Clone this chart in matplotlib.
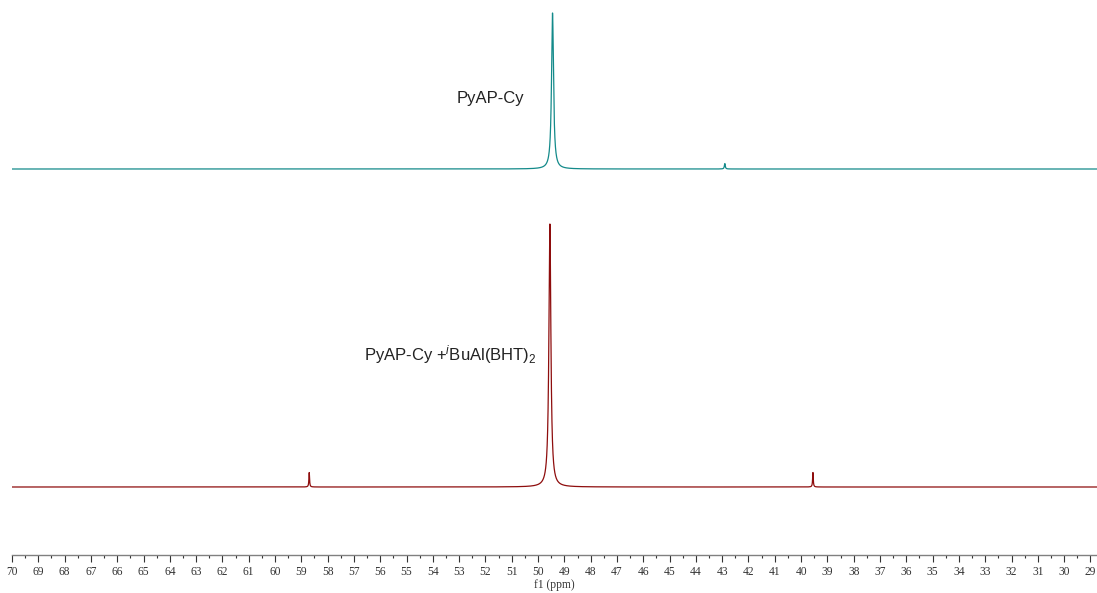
import numpy as np
import matplotlib
matplotlib.use("Agg")
import matplotlib.pyplot as plt
from matplotlib.ticker import MultipleLocator

plt.rcParams["mathtext.fontset"] = "custom"
plt.rcParams["mathtext.rm"] = "Liberation Sans"
plt.rcParams["mathtext.it"] = "Liberation Sans:italic"

# peak lists (ppm, relative height, half width in ppm)
top_shifts = [49.45, 42.9]
top_heights = [1.0, 0.035]
top_widths = [0.045, 0.02]
top_label = "PyAP-Cy"

bottom_shifts = [49.55, 58.7, 39.55]
bottom_heights = [1.0, 0.055, 0.055]
bottom_widths = [0.045, 0.015, 0.015]
bottom_label = r"PyAP-Cy +$^{\mathit{i}}$BuAl(BHT)$_2$"

ppm = np.linspace(70, 28.7, 30000)


def spectrum(shifts, heights, widths):
    y = np.zeros_like(ppm)
    for s, h, w in zip(shifts, heights, widths):
        y += h * w**2 / ((ppm - s) ** 2 + w**2)
    return y


fig = plt.figure(figsize=(10.97, 5.93), dpi=100)
ax = fig.add_axes([12 / 1097, 38 / 593, 1 - 12 / 1097, 555 / 593])

ax.plot(ppm, 386 + 156 * spectrum(top_shifts, top_heights, top_widths),
        color="#138a8a", lw=0.9)
ax.plot(ppm, 68 + 263 * spectrum(bottom_shifts, bottom_heights, bottom_widths),
        color="#8e0d0d", lw=0.9)

ax.text(51.8, 457, top_label, ha="center", va="center",
        fontsize=12, family="Liberation Sans", color="#222222")
ax.text(56.6, 195, bottom_label, ha="left", va="baseline",
        fontsize=12, family="Liberation Sans", color="#222222")

ax.set_xlim(70, 28.75)
ax.set_ylim(0, 555)
ax.xaxis.set_major_locator(MultipleLocator(1))
ax.xaxis.set_minor_locator(MultipleLocator(0.5))
ax.tick_params(axis="x", which="major", length=5, width=0.8, labelsize=8.3,
               pad=3, colors="#333333")
ax.tick_params(axis="x", which="minor", length=2.5, width=0.8, colors="#333333")
for lab in ax.get_xticklabels():
    lab.set_family("Liberation Serif")
ax.set_xlabel("f1 (ppm)", family="Liberation Serif", fontsize=8.3, labelpad=0.5,
              color="#333333")
ax.set_yticks([])
for side in ["top", "left", "right"]:
    ax.spines[side].set_visible(False)
ax.spines["bottom"].set_color("#808080")
ax.spines["bottom"].set_linewidth(1.0)

fig.savefig("out.png", dpi=100)
